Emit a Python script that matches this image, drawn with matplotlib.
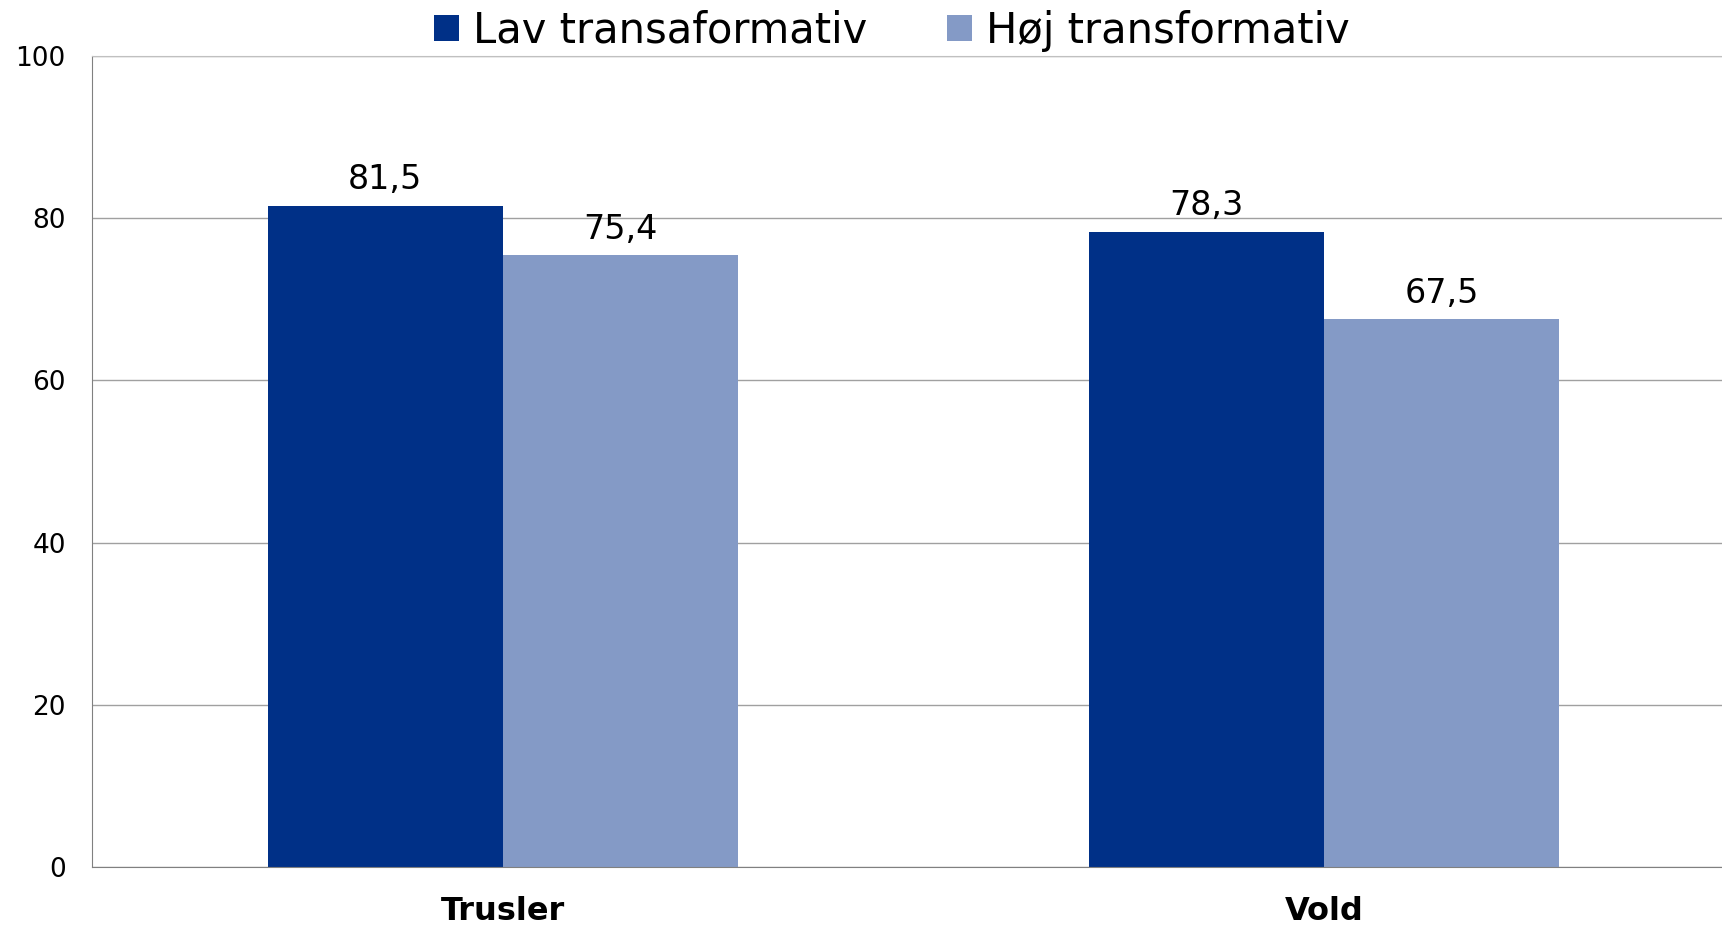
import numpy as np
import matplotlib.pyplot as plt

kategorier = ["Trusler", "Vold"]
lav = [81.5, 78.3]
hoj = [75.4, 67.5]
serier = ["Lav transaformativ", "Høj transformativ"]

fig = plt.figure(figsize=(17.22, 9.25), dpi=100)
ax = fig.add_axes([0.0535, 0.0627, 0.954, 0.877])

x = np.arange(len(kategorier))
b = 0.286
s1 = ax.bar(x - b / 2, lav, b, color="#003087", label=serier[0], zorder=2)
s2 = ax.bar(x + b / 2, hoj, b, color="#849AC6", label=serier[1], zorder=2)

for bars, vals in [(s1, lav), (s2, hoj)]:
    labels = [f"{v:.1f}".replace(".", ",") for v in vals]
    ax.bar_label(bars, labels=labels, padding=7, fontsize=24)

ax.set_xlim(-0.5, 1.5)
ax.set_ylim(0, 100)
ax.set_yticks(range(0, 101, 20))
ax.set_xticks(x)
ax.set_xticklabels(kategorier, fontsize=23, fontweight="bold")
ax.tick_params(axis="y", length=0, pad=19, labelsize=19)
ax.tick_params(axis="x", length=0, pad=21)
ax.yaxis.grid(True, color="#a0a0a0", linewidth=1, zorder=0)
ax.set_axisbelow(True)

ax.spines["top"].set_color("#c0c0c0")
ax.spines["right"].set_visible(False)
ax.spines["left"].set_color("#808080")
ax.spines["bottom"].set_color("#808080")

fig.legend(handles=[s1, s2], loc="center", bbox_to_anchor=(0.518, 0.967), ncol=2,
           frameon=False, fontsize=30, handlelength=0.6, handleheight=0.6,
           handletextpad=0.35, columnspacing=1.9)

fig.savefig("out.png", dpi=100)
